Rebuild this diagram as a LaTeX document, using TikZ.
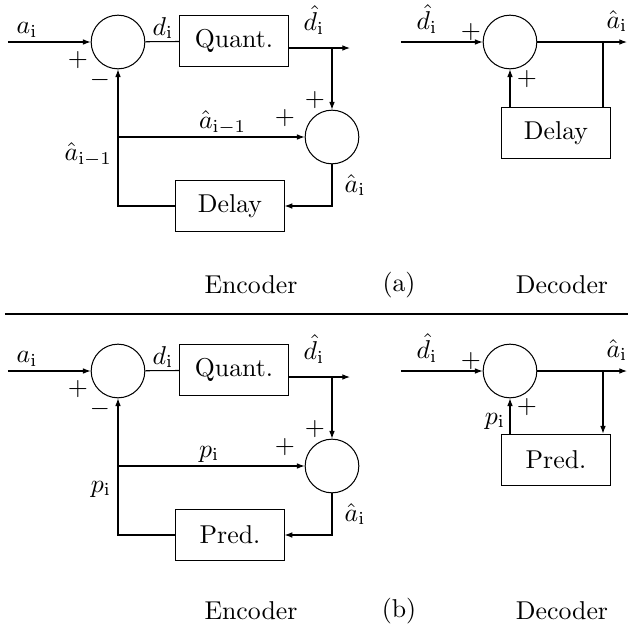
\documentclass[tikz,border=0pt]{standalone}
\usepackage{amsmath}
\usetikzlibrary{arrows.meta,positioning}

\begin{document}
\begin{tikzpicture}[
  x=0.3876pt, y=-0.3876pt,
  sum/.style={draw, circle, minimum size=20.8pt, inner sep=0pt},
  box/.style={draw, minimum width=41.9pt, minimum height=20pt, inner sep=2pt},
  arrow/.style={-{Latex[length=3pt, width=2.2pt]}},
  sign/.style={inner sep=0pt},
  lbl/.style={inner sep=1pt},
]
\useasboundingbox (0,0) rectangle (628,628);

% -- (a) Encoder --
\coordinate (ain) at (8,42);
\node[sum] (sub) at (118,42) {};
\node[box] (quant) at (234,41) {Quant.};
\coordinate (dout) at (350,48);
\coordinate (dbr) at (332,48);
\node[sum] (add) at (332,137) {};
\node[box] (delay) at (230,206) {Delay};

\draw[arrow] (ain) -- (sub);
\draw (sub) -- (quant);
\draw[arrow] (quant.east |- dout) -- (dout);
\draw[arrow] (dbr) -- (add);
\draw[arrow] (sub.south |- add.west) -- (add);
\draw[arrow] (add.south) |- (delay);
\draw[arrow] (delay) -| (sub);

\node[lbl] (la) at (27,30) {$a_{\mathrm{i}}$};
\node[lbl] (ld) at (163,28) {$d_{\mathrm{i}}$};
\node[lbl] (ldq) at (314,20) {$\hat{d}_{\mathrm{i}}$};
\node[sign] (s1) at (78,60) {$+$};
\node[sign] (s2) at (100,80) {$-$};
\node[sign] (s3) at (315,100) {$+$};
\node[sign] (s4) at (285,118) {$+$};
\node[lbl, anchor=west] (lfb) at (196,123) {$\hat{a}_{\mathrm{i}-1}$};
\node[lbl, anchor=east] (lfb2) at (115,155) {$\hat{a}_{\mathrm{i}-1}$};
\node[lbl] (lar) at (355,185) {$\hat{a}_{\mathrm{i}}$};

% -- (a) Decoder --
\coordinate (din) at (401,42);
\node[sum] (dsum) at (510,42) {};
\coordinate (aout) at (627,42);
\coordinate (abr) at (603,42);
\node[box] (ddelay) at (556,133) {Delay};

\draw[arrow] (din) -- (dsum);
\draw[arrow] (dsum) -- (aout);
\draw (abr) -- (abr |- ddelay.north);
\draw[arrow] (dsum.south |- ddelay.north) -- (dsum);

\node[lbl] (ldd) at (427,19) {$\hat{d}_{\mathrm{i}}$};
\node[sign] (s5) at (471,32) {$+$};
\node[lbl] (lda) at (617,21) {$\hat{a}_{\mathrm{i}}$};
\node[sign] (s6) at (527,79) {$+$};

\node (enca) at (251,285) {Encoder};
\node (capa) at (399,285) {(a)};
\node (deca) at (562,285) {Decoder};

\coordinate (sepl) at (5,314);
\coordinate (sepr) at (628,314);
\draw (sepl) -- (sepr);

% -- (b) --
\begin{scope}[shift={(0,329)}]
\coordinate (bain) at (8,42);
\node[sum] (bsub) at (118,42) {};
\node[box] (bquant) at (234,41) {Quant.};
\coordinate (bdout) at (350,48);
\coordinate (bdbr) at (332,48);
\node[sum] (badd) at (332,137) {};
\node[box] (bpred) at (230,206) {Pred.};

\draw[arrow] (bain) -- (bsub);
\draw (bsub) -- (bquant);
\draw[arrow] (bquant.east |- bdout) -- (bdout);
\draw[arrow] (bdbr) -- (badd);
\draw[arrow] (bsub.south |- badd.west) -- (badd);
\draw[arrow] (badd.south) |- (bpred);
\draw[arrow] (bpred) -| (bsub);

\node[lbl] (bla) at (27,30) {$a_{\mathrm{i}}$};
\node[lbl] (bld) at (163,28) {$d_{\mathrm{i}}$};
\node[lbl] (bldq) at (314,20) {$\hat{d}_{\mathrm{i}}$};
\node[sign] (bs1) at (78,60) {$+$};
\node[sign] (bs2) at (100,80) {$-$};
\node[sign] (bs3) at (315,100) {$+$};
\node[sign] (bs4) at (285,118) {$+$};
\node[lbl, anchor=west] (blp) at (196,125) {$p_{\mathrm{i}}$};
\node[lbl, anchor=east] (blp2) at (114,160) {$p_{\mathrm{i}}$};
\node[lbl] (blar) at (355,185) {$\hat{a}_{\mathrm{i}}$};

\coordinate (bdin) at (401,42);
\node[sum] (bdsum) at (510,42) {};
\coordinate (baout) at (627,42);
\coordinate (babr) at (603,42);
\node[box] (bdpred) at (556,131) {Pred.};

\draw[arrow] (bdin) -- (bdsum);
\draw[arrow] (bdsum) -- (baout);
\draw[arrow] (babr) -- (babr |- bdpred.north);
\draw[arrow] (bdsum.south |- bdpred.north) -- (bdsum);

\node[lbl] (bldd) at (427,19) {$\hat{d}_{\mathrm{i}}$};
\node[sign] (bs5) at (471,32) {$+$};
\node[lbl] (blda) at (617,21) {$\hat{a}_{\mathrm{i}}$};
\node[sign] (bs6) at (527,78) {$+$};
\node[lbl] (bldp) at (495,92) {$p_{\mathrm{i}}$};

\node (encb) at (251,282) {Encoder};
\node (capb) at (399,282) {(b)};
\node (decb) at (562,282) {Decoder};
\end{scope}

\end{tikzpicture}
\end{document}
